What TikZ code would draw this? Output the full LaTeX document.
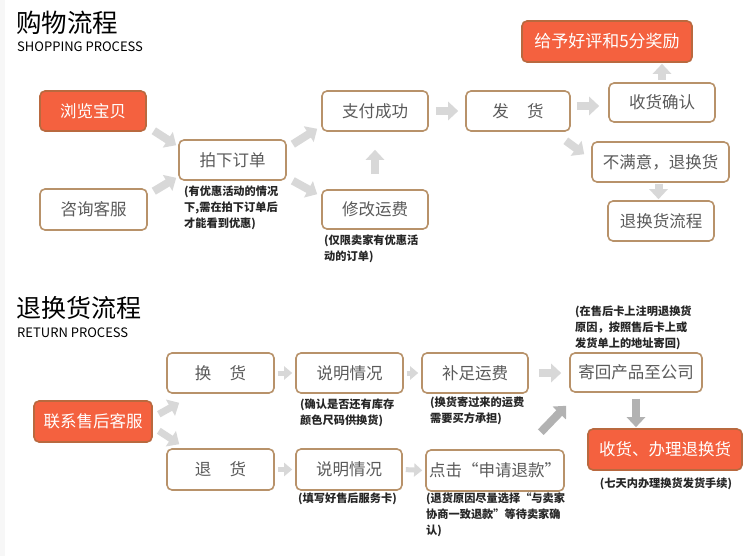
\documentclass[tikz,border=0pt]{standalone}
\usepackage{fontspec}
\setmainfont{Noto Sans CJK SC}
\usetikzlibrary{arrows.meta,calc}

\definecolor{boxline}{HTML}{B8926A}
\definecolor{orangefill}{HTML}{F4613F}
\definecolor{orangeline}{HTML}{B9693F}
\definecolor{boxtext}{HTML}{5A5A5A}
\definecolor{lightarrow}{HTML}{D8D8D8}
\definecolor{darkarrow}{HTML}{B2B2B2}

\begin{document}
\begin{tikzpicture}[x=1pt,y=-1pt,
    whitebox/.style={draw=boxline, line width=1.6pt, rounded corners=5pt, fill=white,
      text=boxtext, font=\fontsize{16.5}{16.5}\selectfont, inner sep=0pt},
    redbox/.style={whitebox, draw=orangeline, fill=orangefill, text=white},
    note/.style={anchor=north west, align=left, inner sep=0pt, text=black!85,
      font=\bfseries\fontsize{11.2}{16}\selectfont},
    fat/.style={lightarrow, line width=8pt, -{Triangle[length=10pt,width=18pt]}},
    slim/.style={lightarrow, line width=5pt, -{Triangle[length=8pt,width=13pt]}}]

        \fill [white] (0,0) rectangle (750,556);
        \useasboundingbox (0,0) rectangle (750,556);
        \fill [black!3] (0,0) rectangle (5,556);

        % shopping process
        \node [anchor=west, inner sep=0pt, font=\fontsize{25.5}{25.5}\selectfont] (title1) at (16,23) {购物流程};
        \node [anchor=west, inner sep=0pt, font=\fontsize{13}{13}\selectfont] (sub1) at (17,47) {SHOPPING PROCESS};

        \node [redbox, minimum width=106pt, minimum height=40pt] (liulan) at (93,111) {浏览宝贝};
        \node [whitebox, minimum width=107pt, minimum height=41pt] (zixun) at (93.5,209.5) {咨询客服};
        \node [whitebox, minimum width=107pt, minimum height=40pt] (paixia) at (232.5,160) {拍下订单};
        \node [whitebox, minimum width=106pt, minimum height=40pt] (zhifu) at (375,111) {支付成功};
        \node [whitebox, minimum width=106pt, minimum height=39pt] (xiugai) at (375,209.5) {修改运费};
        \node [whitebox, minimum width=104pt, minimum height=40pt] (fahuo) at (518,111) {发\hspace{1.1em}货};
        \node [whitebox, minimum width=106pt, minimum height=39pt] (queren) at (662,102.5) {收货确认};
        \node [redbox, minimum width=170pt, minimum height=41pt, font=\fontsize{17}{17}\selectfont] (haoping) at (607,41.5) {给予好评和5分奖励};
        \node [whitebox, minimum width=137pt, minimum height=40pt] (buman) at (660.5,162) {不满意，退换货};
        \node [whitebox, minimum width=106pt, minimum height=40pt] (tuihuan) at (661,221) {退换货流程};

        \node [note] (paixianote) at (184,186) {(有优惠活动的情况\\下,需在拍下订单后\\才能看到优惠)};
        \node [note] (xiugainote) at (324,235) {(仅限卖家有优惠活\\动的订单)};

        \draw [fat] ($(liulan.south east)+(7,-1)$) -- ($(paixia.north west)+(-2,6)$);
        \draw [fat] ($(zixun.north east)+(6,3)$) -- ($(paixia.south west)+(-2,-3)$);
        \draw [fat] ($(paixia.north east)+(6,5)$) -- ($(zhifu.south west)+(-4,-3)$);
        \draw [fat] ($(paixia.south east)+(6,0)$) -- ($(xiugai.north west)+(-4,5)$);
        \draw [fat, shorten <=15pt, shorten >=18pt] (xiugai.north) -- (zhifu.south);
        \draw [fat, shorten <=7pt, shorten >=7pt] (zhifu.east) -- (fahuo.west);
        \draw [fat] ($(fahuo.east)+(6,-5)$) -- ($(queren.west)+(-9,3.5)$);
        \draw [fat, shorten <=2pt, shorten >=1pt] (queren.north) -- (queren.north |- haoping.south);
        \draw [fat] ($(fahuo.south east)+(-5,9)$) -- ($(buman.north west)+(-7,13)$);
        \draw [fat, shorten <=1pt, shorten >=1pt] ($(buman.south)+(-2,0)$) -- ($(buman.south |- tuihuan.north)+(-2,0)$);

        % return process
        \node [anchor=west, inner sep=0pt, font=\fontsize{25}{25}\selectfont] (title2) at (16,308) {退换货流程};
        \node [anchor=west, inner sep=0pt, font=\fontsize{13}{13}\selectfont] (sub2) at (17,333) {RETURN PROCESS};

        \node [redbox, minimum width=118pt, minimum height=41pt] (lianxi) at (93,421.5) {联系售后客服};
        \node [whitebox, minimum width=107pt, minimum height=40pt] (huanhuo) at (220.5,373) {换\hspace{1.1em}货};
        \node [whitebox, minimum width=107pt, minimum height=40pt] (shuoming) at (349.5,373) {说明情况};
        \node [whitebox, minimum width=106pt, minimum height=40pt] (buzu) at (475,373) {补足运费};
        \node [whitebox, minimum width=132pt, minimum height=39pt] (jihui) at (636,372.5) {寄回产品至公司};
        \node [whitebox, minimum width=107pt, minimum height=41pt] (tuihuo) at (220.5,469.5) {退\hspace{1.1em}货};
        \node [whitebox, minimum width=106pt, minimum height=41pt] (tianxie) at (349,469.5) {说明情况};
        \node [whitebox, minimum width=138pt, minimum height=41pt] (dianji) at (495,470.5) {点击“申请退款”};
        \node [redbox, minimum width=154pt, minimum height=41pt] (banli) at (665,449.5) {收货、办理退换货};

        \node [note] (shuomingnote) at (300,399) {(确认是否还有库存\\颜色尺码供换货)};
        \node [note] (buzunote) at (430,397) {(换货寄过来的运费\\需要买方承担)};
        \node [note] (jihuinote) at (575,306) {(在售后卡上注明退换货\\原因，按照售后卡上或\\发货单上的地址寄回)};
        \node [note] (tianxienote) at (298,493) {(填写好售后服务卡)};
        \node [note] (dianjinote) at (426,493) {(退货原因尽量选择“与卖家\\协商一致退款”等待卖家确\\认)};
        \node [note, anchor=center] (banlinote) at (666,484) {(七天内办理换货发货手续)};

        \draw [fat, line width=7pt] ($(lianxi.north east)+(6,14)$) -- ($(huanhuo.south west)+(13,9)$);
        \draw [fat, line width=7pt] ($(lianxi.south east)+(6,-12)$) -- ($(tuihuo.north west)+(13,-4)$);
        \draw [slim, shorten <=3pt, shorten >=3pt] (huanhuo.east) -- (shuoming.west);
        \draw [slim, shorten <=3pt, shorten >=3pt] (shuoming.east) -- (buzu.west);
        \draw [fat, shorten <=10pt, shorten >=8pt] (buzu.east) -- ($(jihui.west)+(0,0.5)$);
        \draw [slim, shorten <=3pt, shorten >=3pt] (tuihuo.east) -- (tianxie.west);
        \draw [slim, shorten <=3pt, shorten >=3pt] (tianxie.east) -- (dianji.west);
        \draw [fat, darkarrow] ($(dianji.north east)+(-24,-17)$) -- ($(jihui.south west)+(-3,13)$);
        \draw [fat, darkarrow, shorten <=6pt, shorten >=1pt] (jihui.south) -- (jihui.south |- banli.north);
\end{tikzpicture}
\end{document}
